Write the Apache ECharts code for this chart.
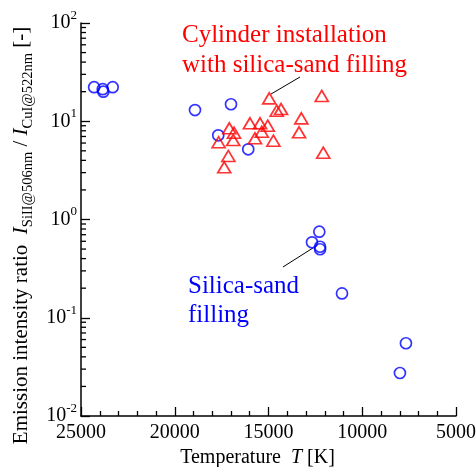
<!DOCTYPE html>
<html><head><meta charset="utf-8">
<script src="https://cdn.jsdelivr.net/npm/echarts@6/dist/echarts.min.js"></script>
<style>html,body{margin:0;padding:0;background:#fff}#c{width:476px;height:467px}</style>
</head><body><div id="c"></div>
<script>
// Silica-sand filling (blue circles)
const blueT = [24300, 23840, 23810, 23310, 18920, 17000, 17680, 16080, 12290, 12680, 12250, 12250, 11080, 7670, 7990];
const blueR = [22.2, 21.2, 20.0, 22.2, 13.0, 14.9, 7.19, 5.18, 0.751, 0.586, 0.528, 0.498, 0.177, 0.055, 0.0274];
// Cylinder installation with silica-sand filling (red triangles)
const redT = [14960, 14560, 14330, 12160, 13250, 13370, 12080, 17090, 16840, 16880, 17660, 15990, 15450, 15040, 15360, 15720, 14740, 17140, 17360];
const redR = [17.1, 12.8, 13.3, 18.1, 10.7, 7.72, 4.79, 8.48, 7.65, 6.44, 6.11, 9.53, 9.53, 9.01, 7.83, 6.70, 6.34, 4.43, 3.40];
const xMin = 5000, xMax = 25000, xInterval = 5000;
const yMin = 0.01, yMax = 100;
const yDecades = [0.01, 0.1, 1, 10];
const yMinorMult = [2, 3, 4, 5, 6, 7, 8, 9];
const redLabel = 'Cylinder installation\nwith silica-sand filling';
const blueLabel = 'Silica-sand\nfilling';

const FONT = 'Liberation Serif';
const yMinor = [];
yDecades.forEach(d => yMinorMult.forEach(m => yMinor.push([xMax, d * m])));

const chart = echarts.init(document.getElementById('c'), null, {renderer: 'canvas'});
const option = {
  animation: false,
  backgroundColor: '#fff',
  grid: {left: 81, right: 20, top: 23, bottom: 51, containLabel: false, outerBoundsMode: 'none'},
  xAxis: {
    type: 'value', inverse: true, min: xMin, max: xMax, interval: xInterval,
    name: 'Temperature  {i|T} [K]', nameLocation: 'middle', nameGap: 26,
    nameTextStyle: {fontFamily: FONT, fontSize: 20, color: '#000', padding: [0, 22, 0, 0],
      rich: {i: {fontFamily: FONT, fontSize: 20, fontStyle: 'italic', color: '#000'}}},
    axisLine: {show: true, lineStyle: {color: '#000', width: 1.5}},
    axisTick: {show: true, inside: true, length: 9, lineStyle: {color: '#000', width: 1.3}},
    minorTick: {show: true, splitNumber: 5, length: 5, lineStyle: {color: '#000', width: 1.3}},
    axisLabel: {fontFamily: FONT, fontSize: 20, color: '#000', margin: 7, formatter: v => String(v)},
    splitLine: {show: false}, minorSplitLine: {show: false}
  },
  yAxis: {
    type: 'log', logBase: 10, min: yMin, max: yMax,
    name: '{a|Emission intensity ratio  }{i|I}{s|SiII@506nm}{a| / }{i|I}{s|CuI@522nm}{a| [-]}',
    nameLocation: 'middle', nameRotate: 90, nameGap: 44,
    nameTextStyle: {padding: [0, 32, 0, 0],
      rich: {
        a: {fontFamily: FONT, fontSize: 21, color: '#000', lineHeight: 20},
        i: {fontFamily: FONT, fontSize: 21, fontStyle: 'italic', color: '#000', lineHeight: 20},
        s: {fontFamily: FONT, fontSize: 14.5, color: '#000', verticalAlign: 'bottom', lineHeight: 28}
      }},
    axisLine: {show: true, lineStyle: {color: '#000', width: 1.5}},
    axisTick: {show: true, inside: true, length: 9, lineStyle: {color: '#000', width: 1.3}},
    minorTick: {show: false},
    axisLabel: {
      margin: 4,
      formatter: v => '{b|10}{s|' + Math.round(Math.log10(v)) + '}',
      rich: {
        b: {fontFamily: FONT, fontSize: 20, color: '#000', lineHeight: 28},
        s: {fontFamily: FONT, fontSize: 13, color: '#000', verticalAlign: 'top', lineHeight: 13}
      }
    },
    splitLine: {show: false}
  },
  series: [
    {
      type: 'scatter', name: 'silica', symbol: 'circle', symbolSize: 11,
      data: blueT.map((t, i) => [t, blueR[i]]),
      itemStyle: {color: 'rgba(0,0,0,0)', borderColor: '#0000ff', borderWidth: 1.7},
      z: 3
    },
    {
      type: 'scatter', name: 'cylinder', symbol: 'triangle', symbolSize: [13, 11],
      data: redT.map((t, i) => [t, redR[i]]),
      itemStyle: {color: 'rgba(0,0,0,0)', borderColor: '#ff0000', borderWidth: 1.7},
      z: 4
    },
    {
      type: 'custom', silent: true, clip: false, z: 5,
      data: yMinor,
      renderItem: (params, api) => {
        const p = api.coord([api.value(0), api.value(1)]);
        return {type: 'line', shape: {x1: p[0], y1: p[1], x2: p[0] + 5, y2: p[1]},
          style: {stroke: '#000', lineWidth: 1.3}};
      }
    }
  ]
};
chart.setOption(option);

// leader lines anchored in data coordinates
const r1 = chart.convertToPixel({gridIndex: 0}, [13320, 28.2]);
const r2 = chart.convertToPixel({gridIndex: 0}, [14870, 18.9]);
const b1 = chart.convertToPixel({gridIndex: 0}, [14230, 0.3285]);
const b2 = chart.convertToPixel({gridIndex: 0}, [12630, 0.513]);
chart.setOption({
  graphic: [
    {type: 'text', x: 182, y: 20, style: {text: redLabel, fontFamily: FONT, fontSize: 25, fill: '#ff0000', lineHeight: 30, verticalAlign: 'top', align: 'left'}},
    {type: 'text', x: 188, y: 272, style: {text: blueLabel, fontFamily: FONT, fontSize: 25, fill: '#0000ff', lineHeight: 29, verticalAlign: 'top', align: 'left'}},
    {type: 'line', shape: {x1: r1[0], y1: r1[1], x2: r2[0], y2: r2[1]}, style: {stroke: '#000', lineWidth: 1}},
    {type: 'line', shape: {x1: b1[0], y1: b1[1], x2: b2[0], y2: b2[1]}, style: {stroke: '#000', lineWidth: 1}}
  ]
});
</script></body></html>
